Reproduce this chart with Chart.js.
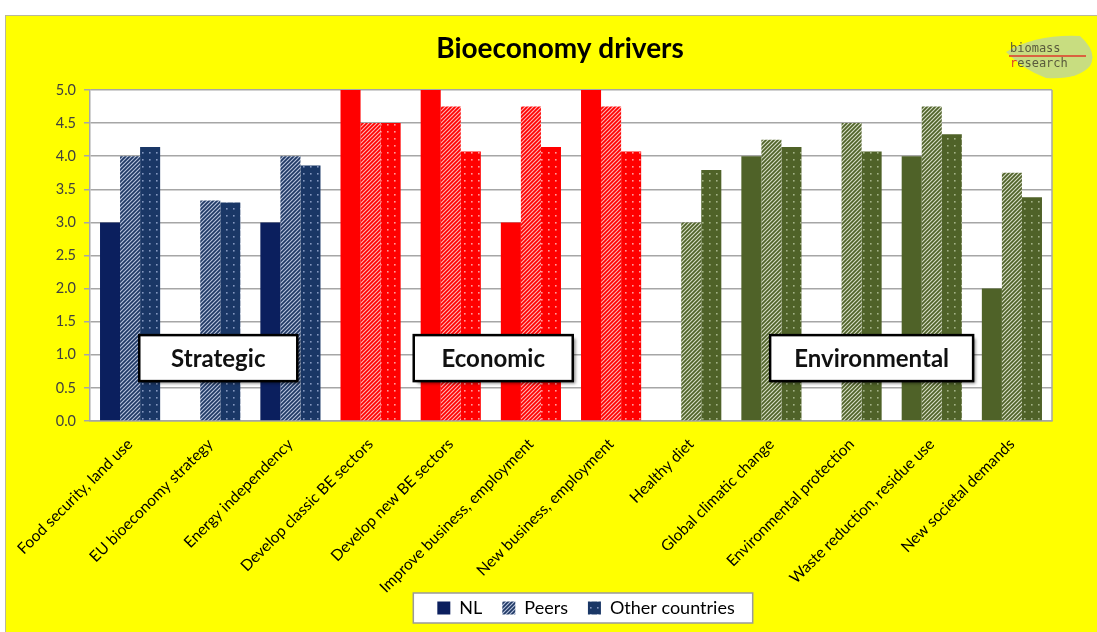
<!DOCTYPE html>
<html>
<head>
<meta charset="utf-8">
<title>Bioeconomy drivers</title>
<script src="https://cdn.jsdelivr.net/npm/chart.js@4"></script>
<style>
  html, body { margin: 0; padding: 0; background: #fff; }
  #frame {
    position: absolute; left: 5px; top: 15px;
    width: 1091px; height: 616px;
    background: #ffff00;
    border-left: 1px solid #b8b89a; border-top: 1px solid #b8b89a;
  }
</style>
</head>
<body>
<div id="frame"><canvas id="chart"></canvas></div>
<script>
// ---- data ----
const categories = [
  "Food security, land use",
  "EU bioeconomy strategy",
  "Energy independency",
  "Develop classic BE sectors",
  "Develop new BE sectors",
  "Improve business, employment",
  "New business, employment",
  "Healthy diet",
  "Global climatic change",
  "Environmental protection",
  "Waste reduction, residue use",
  "New societal demands"
];
const groupOf = [0, 0, 0, 1, 1, 1, 1, 2, 2, 2, 2, 2];
const groupNames = ["Strategic", "Economic", "Environmental"];
const seriesNames = ["NL", "Peers", "Other countries"];
const nlValues = [3, 0, 3, 5, 5, 3, 5, 0, 4, 0, 4, 2];
const peersValues = [4, 3.33, 4, 4.5, 4.75, 4.75, 4.75, 3, 4.25, 4.5, 4.75, 3.75];
const otherValues = [4.14, 3.3, 3.86, 4.5, 4.07, 4.14, 4.07, 3.79, 4.14, 4.07, 4.33, 3.38];
const yTicks = [0, 0.5, 1, 1.5, 2, 2.5, 3, 3.5, 4, 4.5, 5];

// ---- fills ----
const canvas = document.getElementById("chart");
const mainCtx = canvas.getContext("2d");

const palette = [
  { solid: "#0b1f5e", line: "#1f3864", light: "#b7c3dc", dotBg: "#1a3766", dot: "#8497bf" },
  { solid: "#ff0000", line: "#ff0000", light: "#ffb4b4", dotBg: "#ff0000", dot: "#ff9c9c" },
  { solid: "#4f6228", line: "#4f6228", light: "#d6ddc6", dotBg: "#4f6228", dot: "#a3b287" }
];

function hatch(fg, bg) {
  const c = document.createElement("canvas");
  c.width = 4; c.height = 4;
  const g = c.getContext("2d");
  g.fillStyle = bg;
  g.fillRect(0, 0, 4, 4);
  g.strokeStyle = fg;
  g.lineWidth = 1.7;
  g.beginPath();
  g.moveTo(-1, 5); g.lineTo(5, -1);
  g.moveTo(-1, 1); g.lineTo(1, -1);
  g.moveTo(3, 5); g.lineTo(5, 3);
  g.stroke();
  return mainCtx.createPattern(c, "repeat");
}

function dotted(bg, dot) {
  const c = document.createElement("canvas");
  c.width = 7; c.height = 7;
  const g = c.getContext("2d");
  g.fillStyle = bg;
  g.fillRect(0, 0, 7, 7);
  g.fillStyle = dot;
  g.fillRect(3, 3, 1.6, 1.6);
  return mainCtx.createPattern(c, "repeat");
}

const solidFills = palette.map(p => p.solid);
const hatchFills = palette.map(p => hatch(p.line, p.light));
const dotFills = palette.map(p => dotted(p.dotBg, p.dot));

const FONT = "Lato, 'Open Sans', sans-serif";

// ---- decorations: plot background, legend frame, group labels, title, logo ----
const decorPlugin = {
  id: "decor",
  afterUpdate(chart) {
    // long rotated labels may run past the axis box (down beside the legend)
    chart.scales.x.bottom = chart.height;

    // push the legend a bit to the right, like the original
    const lg = chart.legend;
    const hb = lg.legendHitBoxes;
    if (!hb.length) return;
    const l = Math.min(...hb.map(b => b.left));
    const r = Math.max(...hb.map(b => b.left + b.width));
    const shift = 580 - (l + r) / 2;
    lg.left += shift; lg.right += shift;
    hb.forEach(b => { b.left += shift; });
  },
  beforeDraw(chart) {
    const { ctx, chartArea: a } = chart;
    ctx.save();
    ctx.fillStyle = "#ffffff";
    ctx.fillRect(a.left, a.top, a.right - a.left, a.bottom - a.top);

    const hb = chart.legend.legendHitBoxes;
    if (hb.length) {
      const l = Math.min(...hb.map(b => b.left)) - 24;
      const r = Math.max(...hb.map(b => b.left + b.width)) + 18;
      const t = hb[0].top - 6;
      const h = hb[0].height + 12;
      ctx.fillStyle = "#ffffff";
      ctx.fillRect(l, t, r - l, h);
      ctx.strokeStyle = "#9a9a9a";
      ctx.lineWidth = 1.5;
      ctx.strokeRect(l, t, r - l, h);
    }
    ctx.restore();
  },
  afterDatasetsDraw(chart) {
    const { ctx, scales: { x, y } } = chart;
    const centres = [1.1, 4.53, 9.25];
    const widths = [158, 159, 203];
    ctx.save();
    ctx.font = "bold 24px " + FONT;
    ctx.textAlign = "center";
    ctx.textBaseline = "middle";
    groupNames.forEach((name, i) => {
      const cx = x.getPixelForValue(centres[i]);
      const cy = y.getPixelForValue(0.95);
      const w = widths[i], h = 46;
      ctx.save();
      ctx.shadowColor = "rgba(0,0,0,0.45)";
      ctx.shadowOffsetX = 3;
      ctx.shadowOffsetY = 3;
      ctx.shadowBlur = 3;
      ctx.fillStyle = "#ffffff";
      ctx.fillRect(cx - w / 2, cy - h / 2, w, h);
      ctx.restore();
      ctx.strokeStyle = "#000000";
      ctx.lineWidth = 2.5;
      ctx.strokeRect(cx - w / 2, cy - h / 2, w, h);
      ctx.fillStyle = "#111111";
      ctx.fillText(name, cx, cy + 1);
    });
    ctx.restore();
  },
  afterDraw(chart) {
    const { ctx, chartArea: a } = chart;
    ctx.save();
    // right edge of the plot
    ctx.strokeStyle = "#a6a6a6";
    ctx.lineWidth = 1.5;
    ctx.beginPath();
    ctx.moveTo(a.right, a.top);
    ctx.lineTo(a.right, a.bottom);
    ctx.stroke();

    // title
    ctx.fillStyle = "#000000";
    ctx.font = "bold 28px " + FONT;
    ctx.textAlign = "center";
    ctx.textBaseline = "middle";
    ctx.fillText("Bioeconomy drivers", 554, 33);

    // logo
    ctx.fillStyle = "rgba(190, 215, 150, 0.85)";
    ctx.beginPath();
    ctx.moveTo(1000, 36);
    ctx.quadraticCurveTo(1030, 18, 1074, 20);
    ctx.quadraticCurveTo(1092, 36, 1084, 50);
    ctx.quadraticCurveTo(1072, 64, 1040, 62);
    ctx.quadraticCurveTo(1018, 54, 1000, 36);
    ctx.fill();
    ctx.font = "12px 'DejaVu Sans Mono', monospace";
    ctx.textAlign = "left";
    ctx.textBaseline = "alphabetic";
    ctx.fillStyle = "#5a5a3c";
    ctx.fillText("biomass", 1004, 36);
    ctx.strokeStyle = "#e03a2a";
    ctx.lineWidth = 1.5;
    ctx.beginPath();
    ctx.moveTo(1003, 40);
    ctx.lineTo(1080, 40);
    ctx.stroke();
    ctx.fillStyle = "#e03a2a";
    ctx.fillText("r", 1004, 51);
    ctx.fillStyle = "#5a5a3c";
    ctx.fillText("esearch", 1004 + ctx.measureText("r").width, 51);
    ctx.restore();
  }
};

new Chart(canvas, {
  type: "bar",
  data: {
    labels: categories,
    datasets: [
      { label: seriesNames[0], data: nlValues, backgroundColor: groupOf.map(g => solidFills[g]) },
      { label: seriesNames[1], data: peersValues, backgroundColor: groupOf.map(g => hatchFills[g]) },
      { label: seriesNames[2], data: otherValues, backgroundColor: groupOf.map(g => dotFills[g]) }
    ]
  },
  options: {
    responsive: true,
    maintainAspectRatio: false,
    animation: false,
    categoryPercentage: 0.75,
    barPercentage: 1.0,
    layout: { padding: { top: 74, right: 45, bottom: 5, left: 0 } },
    plugins: {
      title: { display: false },
      tooltip: { enabled: false },
      legend: {
        position: "bottom",
        fullSize: false,
        labels: {
          font: { family: FONT, size: 18 },
          color: "#3a3a3a",
          boxWidth: 13,
          boxHeight: 13,
          padding: 20,
          generateLabels: (chart) => chart.data.datasets.map((ds, i) => ({
            text: ds.label,
            fillStyle: ds.backgroundColor[0],
            strokeStyle: "rgba(0,0,0,0)",
            lineWidth: 0,
            hidden: false,
            datasetIndex: i
          }))
        }
      }
    },
    scales: {
      x: {
        grid: { display: false },
        border: { display: true, color: "#a6a6a6", width: 1.5 },
        ticks: {
          color: "#000000",
          font: { family: FONT, size: 15.5 },
          minRotation: 45,
          maxRotation: 45,
          autoSkip: false,
          padding: 6
        },
        afterFit: (scale) => {
          scale.height = 158;
          scale.paddingLeft = 0;
          scale.paddingRight = 0;
        }
      },
      y: {
        min: 0,
        max: 5,
        afterBuildTicks: (scale) => { scale.ticks = yTicks.map(v => ({ value: v })); },
        grid: { color: "#a6a6a6", lineWidth: 1.5, tickLength: 6 },
        border: { display: true, color: "#a6a6a6", width: 1.5 },
        ticks: {
          color: "#404040",
          font: { family: FONT, size: 14.5 },
          padding: 8,
          callback: (v) => Number(v).toFixed(1)
        },
        afterFit: (scale) => { scale.width = 84; }
      }
    }
  },
  plugins: [decorPlugin]
});
</script>
</body>
</html>
